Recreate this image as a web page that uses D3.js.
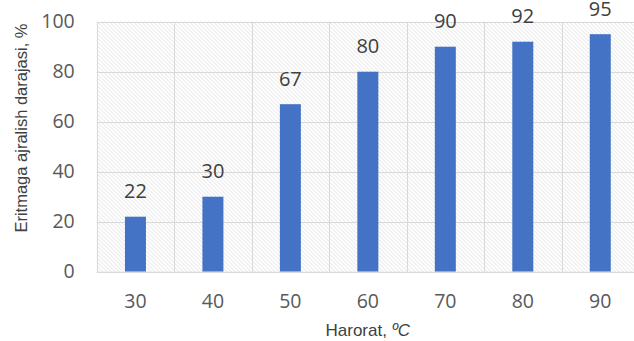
<!DOCTYPE html>
<html>
<head>
<meta charset="utf-8">
<script src="https://cdn.jsdelivr.net/npm/d3@7"></script>
<style>
  html, body { margin: 0; padding: 0; background: #fff; overflow: hidden; }
  svg { display: block; }
</style>
</head>
<body>
<svg id="chart" width="634" height="341"></svg>
<script>
// Degree of dissolution (%) against temperature (°C)
const categories = ["30", "40", "50", "60", "70", "80", "90"];
const values = [22, 30, 67, 80, 90, 92, 95];
const yTicks = [0, 20, 40, 60, 80, 100];

const svg = d3.select("#chart");
const margin = { left: 96.7, right: -5, top: 21.7, bottom: 69.3 };
const W = 634, H = 341;
const x0 = margin.left, x1 = W - margin.right;
const y0 = H - margin.bottom, y1 = margin.top;

const x = d3.scaleBand().domain(categories).range([x0, x1]).paddingInner(0).paddingOuter(0);
const y = d3.scaleLinear().domain([0, 100]).range([y0, y1]);

// diagonal hatch fill for the plot area
const defs = svg.append("defs");
const step = 2.83;
const pat = defs.append("pattern")
  .attr("id", "hatch")
  .attr("patternUnits", "userSpaceOnUse")
  .attr("width", step).attr("height", step)
  .attr("patternTransform", "rotate(45)");
pat.append("rect").attr("width", step).attr("height", step).attr("fill", "#ffffff");
pat.append("line").attr("x1", 0).attr("y1", 0).attr("x2", step).attr("y2", 0)
  .attr("stroke", "#d4d4d4").attr("stroke-width", 1);

svg.append("rect")
  .attr("x", x0).attr("y", y1)
  .attr("width", x1 - x0).attr("height", y0 - y1)
  .attr("fill", "url(#hatch)");

// horizontal gridlines
svg.append("g").selectAll("line").data(yTicks).join("line")
  .attr("x1", x0).attr("x2", x1)
  .attr("y1", d => Math.round(y(d)) + 0.5).attr("y2", d => Math.round(y(d)) + 0.5)
  .attr("stroke", "#d9d9d9").attr("stroke-width", 1);

// vertical category gridlines
const bounds = categories.map(c => x(c)).concat([x1]);
svg.append("g").selectAll("line").data(bounds).join("line")
  .attr("x1", d => Math.round(d) + 0.5).attr("x2", d => Math.round(d) + 0.5)
  .attr("y1", y1).attr("y2", y0)
  .attr("stroke", "#d9d9d9").attr("stroke-width", 1);

// bars
const barW = 21;
svg.append("g").selectAll("rect").data(values).join("rect")
  .attr("x", (d, i) => x(categories[i]) + x.bandwidth() / 2 - barW / 2)
  .attr("width", barW)
  .attr("y", d => y(d))
  .attr("height", d => y(0) - y(d))
  .attr("fill", "#4472c4");

// value labels
svg.append("g").selectAll("text").data(values).join("text")
  .attr("x", (d, i) => x(categories[i]) + x.bandwidth() / 2)
  .attr("y", d => y(d) - 18.5)
  .attr("text-anchor", "middle")
  .attr("font-family", "'Open Sans', sans-serif")
  .attr("font-size", 20)
  .attr("fill", "#404040")
  .text(d => d);

// y axis tick labels
const yAxis = d3.axisLeft(y).tickValues(yTicks).tickSize(0).tickPadding(22);
const gy = svg.append("g").attr("transform", `translate(${x0},0)`).call(yAxis);
gy.select(".domain").remove();
gy.selectAll("text")
  .attr("font-family", "'Open Sans', sans-serif")
  .attr("font-size", 19.5)
  .attr("fill", "#595959");

// x axis tick labels
const xAxis = d3.axisBottom(x).tickSize(0).tickPadding(22);
const gx = svg.append("g").attr("transform", `translate(0,${y0})`).call(xAxis);
gx.select(".domain").attr("stroke", "#d9d9d9").attr("stroke-width", 1);
gx.selectAll("text")
  .attr("font-family", "'Open Sans', sans-serif")
  .attr("font-size", 19.5)
  .attr("fill", "#595959");

// axis titles
const xt = svg.append("text")
  .attr("x", (x0 + x1) / 2).attr("y", 336)
  .attr("text-anchor", "middle")
  .attr("font-family", "'Liberation Sans', Arial, sans-serif")
  .attr("font-size", 17)
  .attr("fill", "#404040");
xt.append("tspan").text("Harorat, ");
xt.append("tspan").attr("font-style", "italic").text("ºC");

svg.append("text")
  .attr("transform", `translate(27,${128}) rotate(-90)`)
  .attr("text-anchor", "middle")
  .attr("font-family", "'Liberation Sans', Arial, sans-serif")
  .attr("font-size", 16.5)
  .attr("fill", "#404040")
  .text("Eritmaga ajralish darajasi, %");
</script>
</body>
</html>
